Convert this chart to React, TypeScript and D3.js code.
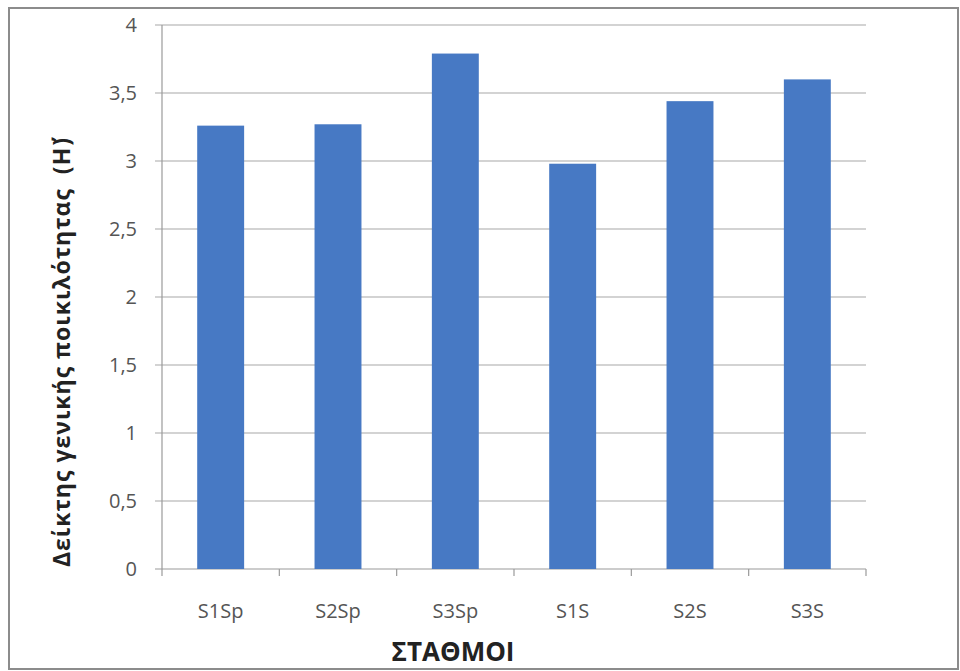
import React from "react";
import * as d3 from "d3";

const stations = ["S1Sp", "S2Sp", "S3Sp", "S1S", "S2S", "S3S"];
const diversity = [3.26, 3.27, 3.79, 2.98, 3.44, 3.6];
const yTicks = [0, 0.5, 1, 1.5, 2, 2.5, 3, 3.5, 4];
const yTitle = "Δείκτης γενικής ποικιλότητας  (H΄)";
const xTitle = "ΣΤΑΘΜΟΙ";

const W = 960;
const H = 671;
const plot = { left: 162, right: 866, top: 25, bottom: 569 };
const font = "'Open Sans', 'Liberation Sans', sans-serif";

export default function App() {
  const x = d3
    .scaleBand<string>()
    .domain(stations)
    .range([plot.left, plot.right])
    .paddingInner(0.6)
    .paddingOuter(0.3);
  const step = x.step();
  const bandStart = d3
    .scaleBand<string>()
    .domain(stations)
    .range([plot.left, plot.right]);
  const y = d3.scaleLinear().domain([0, 4]).range([plot.bottom, plot.top]);
  const fmt = (v: number) => String(v).replace(".", ",");

  return (
    <svg
      width={W}
      height={H}
      style={{ position: "absolute", left: 0, top: 0, background: "#fff" }}
    >
      <rect x={9} y={8} width={949} height={661} fill="#fff" stroke="#8c8c8c" strokeWidth={2} />

      {/* gridlines and y ticks */}
      {yTicks.map((t) => (
        <g key={t}>
          <line
            x1={plot.left - 7}
            x2={plot.right}
            y1={y(t)}
            y2={y(t)}
            stroke={t === 0 ? "#9a9a9a" : "#a8a8a8"}
            strokeWidth={1.2}
          />
          <text
            x={137}
            y={y(t)}
            dy="0.35em"
            textAnchor="end"
            fontFamily={font}
            fontSize={20}
            fill="#555"
          >
            {fmt(t)}
          </text>
        </g>
      ))}

      {/* y axis line */}
      <line x1={plot.left} x2={plot.left} y1={plot.top} y2={plot.bottom + 7} stroke="#9a9a9a" strokeWidth={1.2} />

      {/* x axis tick marks at category boundaries */}
      {stations.map((s) => (
        <line
          key={s}
          x1={(bandStart(s) as number) + step}
          x2={(bandStart(s) as number) + step}
          y1={plot.bottom}
          y2={plot.bottom + 7}
          stroke="#9a9a9a"
          strokeWidth={1.2}
        />
      ))}

      {/* bars */}
      {stations.map((s, i) => (
        <rect
          key={s}
          x={x(s)}
          y={y(diversity[i])}
          width={x.bandwidth()}
          height={y(0) - y(diversity[i])}
          fill="#4779c4"
        />
      ))}

      {/* category labels */}
      {stations.map((s) => (
        <text
          key={s}
          x={(x(s) as number) + x.bandwidth() / 2}
          y={618}
          textAnchor="middle"
          fontFamily={font}
          fontSize={20}
          fill="#555"
        >
          {s}
        </text>
      ))}

      <text
        x={453}
        y={661}
        textAnchor="middle"
        fontFamily={font}
        fontSize={26}
        fontWeight="bold"
        fill="#222"
      >
        {xTitle}
      </text>

      <text
        transform={`translate(70, 352) rotate(-90)`}
        textAnchor="middle"
        fontFamily={font}
        fontSize={23}
        fontWeight="bold"
        letterSpacing={1}
        fill="#222"
        style={{ whiteSpace: "pre" }}
      >
        {yTitle}
      </text>
    </svg>
  );
}
